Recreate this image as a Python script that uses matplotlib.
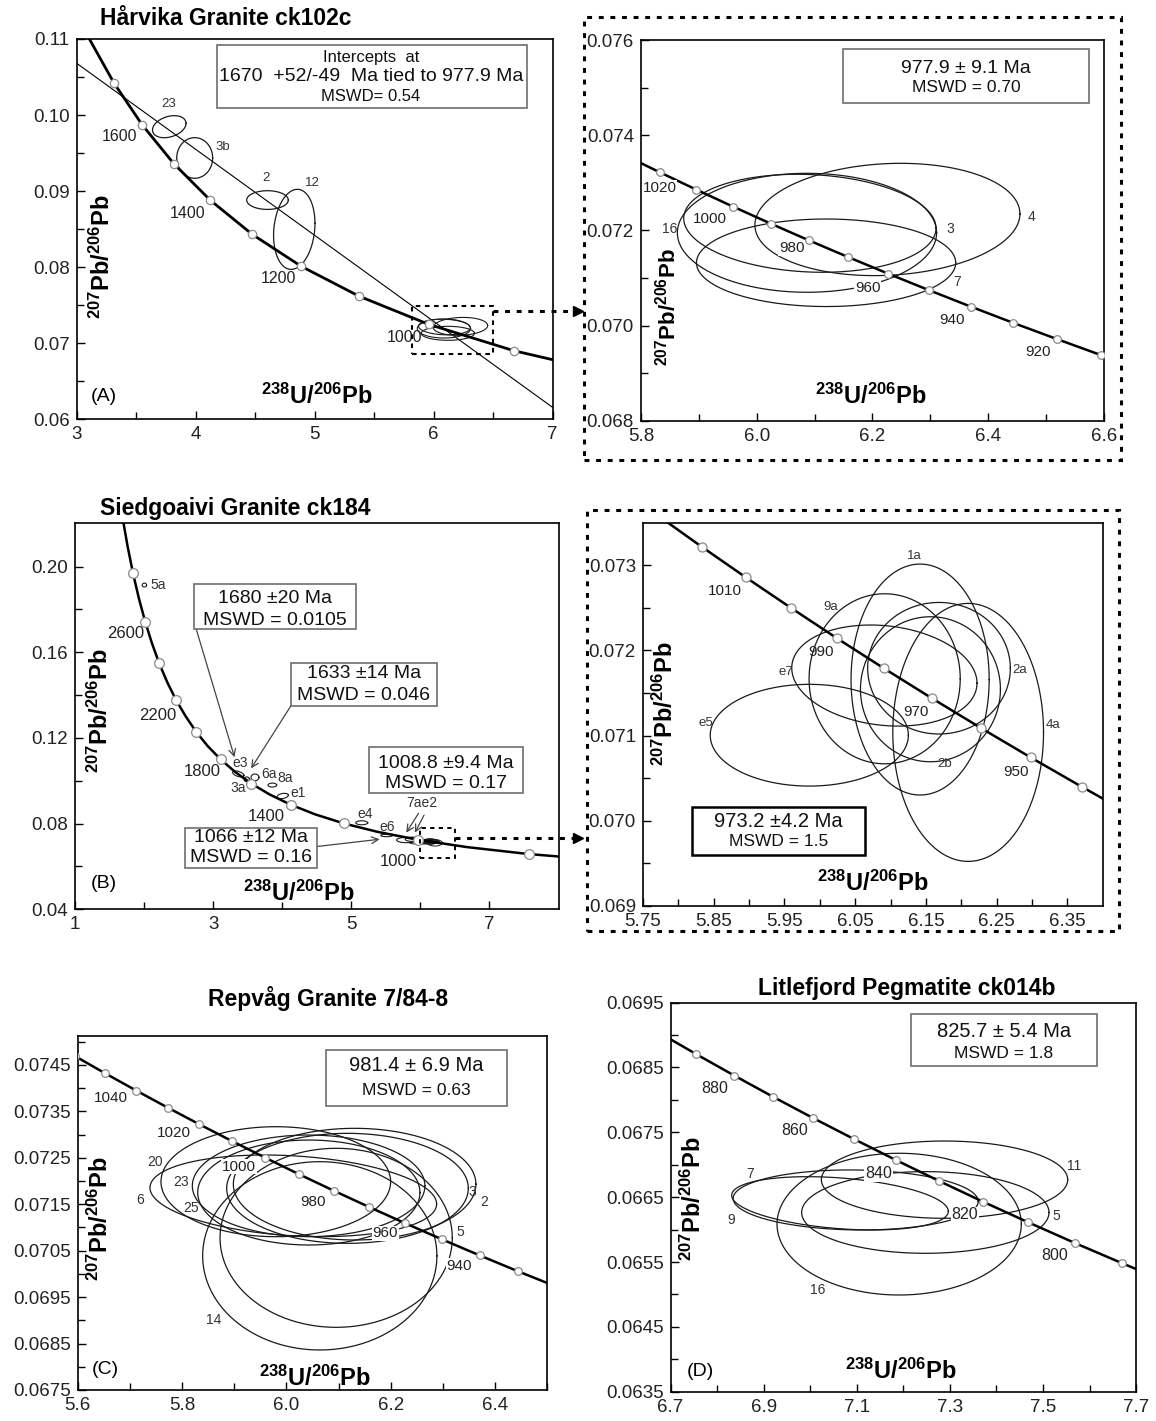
import numpy as np
import matplotlib
matplotlib.use("Agg")
import matplotlib.pyplot as plt
from matplotlib.patches import Rectangle
from matplotlib.lines import Line2D
from matplotlib.ticker import FixedLocator, FormatStrFormatter

plt.rcParams['font.family'] = ['Liberation Sans', 'DejaVu Sans']
plt.rcParams['mathtext.fontset'] = 'custom'
plt.rcParams['mathtext.rm'] = 'Liberation Sans'
plt.rcParams['mathtext.it'] = 'Liberation Sans:italic'
plt.rcParams['mathtext.bf'] = 'Liberation Sans:bold'

# concordia, 100 Ma steps: age, 238U/206Pb, 207Pb/206Pb
conc_age = [700, 800, 900, 1000, 1100, 1200, 1300, 1400, 1500, 1600, 1700, 1800,
            1900, 2000, 2100, 2200, 2300, 2400, 2500, 2600, 2700, 2800, 2900, 3000]
conc_u = [8.718, 7.568, 6.674, 5.959, 5.375, 4.888, 4.476, 4.123, 3.817, 3.550, 3.314, 3.105,
          2.917, 2.749, 2.599, 2.459, 2.333, 2.217, 2.111, 2.013, 1.922, 1.838, 1.760, 1.687]
conc_pb = [0.06276, 0.06580, 0.06904, 0.07250, 0.07619, 0.08012, 0.08432, 0.08881, 0.09360,
           0.09872, 0.10419, 0.11004, 0.11629, 0.12299, 0.13015, 0.13782, 0.14604, 0.15483,
           0.16426, 0.17437, 0.18520, 0.19682, 0.20928, 0.22266]

# concordia, 10 Ma steps (zoomed panels)
fine_age = [780, 790, 800, 810, 820, 830, 840, 850, 860, 870, 880, 890, 900, 910, 920,
            930, 940, 950, 960, 970, 980, 990, 1000, 1010, 1020, 1030, 1040, 1050, 1060]
fine_u = [7.7741, 7.6697, 7.5679, 7.4686, 7.3717, 7.2772, 7.1849, 7.0948, 7.0067, 6.9208,
          6.8368, 6.7546, 6.6742, 6.5957, 6.5188, 6.4436, 6.3700, 6.2980, 6.2274, 6.1583,
          6.0906, 6.0243, 5.9593, 5.8956, 5.8332, 5.7720, 5.7119, 5.6530, 5.5952]
fine_pb = [0.065170, 0.065482, 0.065795, 0.066111, 0.066428, 0.066748, 0.067069, 0.067393,
           0.067718, 0.068045, 0.068375, 0.068707, 0.069041, 0.069377, 0.069717, 0.070056,
           0.070399, 0.070743, 0.071090, 0.071439, 0.071790, 0.072143, 0.072500, 0.072858,
           0.073218, 0.073581, 0.073946, 0.074314, 0.074683]

# discordia line, panel A
disc_u = [3.0, 7.0]
disc_pb = [0.1068, 0.0616]

# error ellipses: name, centre, half-widths, correlation
A_name = ['23', '3b', '2', '12']
A_cx = [3.778, 3.992, 4.604, 4.829]
A_cy = [0.09847, 0.09436, 0.08883, 0.08498]
A_sx = [0.141, 0.151, 0.175, 0.174]
A_sy = [0.00145, 0.00267, 0.00123, 0.00526]
A_rho = [0.3, 0.0, 0.0, 0.15]
A_lx = [3.776, 4.230, 4.593, 4.981]
A_ly = [0.10141, 0.09585, 0.09168, 0.09103]

Az_name = ['16', '3', '4', '7']
Az_cx = [6.087, 6.092, 6.226, 6.120]
Az_cy = [0.07195, 0.07215, 0.07223, 0.07132]
Az_sx = [0.224, 0.218, 0.229, 0.224]
Az_sy = [0.00125, 0.00103, 0.00118, 0.00092]
Az_rho = [0.0, -0.1, 0.1, 0.0]
Az_lx = [5.849, 6.334, 6.475, 6.347]
Az_ly = [0.07204, 0.07204, 0.07229, 0.07092]

B_name = ['5a', 'e3', '3a', '6a', '8a', 'e1', 'e4', 'e6', '7a', 'e2']
B_cx = [2.002, 3.362, 3.484, 3.604, 3.855, 4.005, 5.150, 5.512, 5.80, 5.88]
B_cy = [0.1914, 0.1032, 0.1007, 0.1016, 0.0980, 0.0929, 0.0804, 0.0745, 0.07235, 0.0727]
B_sx = [0.032, 0.082, 0.039, 0.058, 0.063, 0.082, 0.087, 0.087, 0.145, 0.10]
B_sy = [0.0009, 0.0014, 0.0011, 0.00156, 0.00093, 0.00125, 0.00093, 0.0006, 0.00125, 0.0010]
B_rho = [0, -0.5, 0, 0, 0, 0.3, 0, 0, 0, 0]
B_lab = ['5a', 'e3', '3a', '6a', '8a', 'e1', 'e4', 'e6', '7ae2']
B_lx = [2.207, 3.387, 3.36, 3.80, 4.042, 4.229, 5.195, 5.516, 6.026]
B_ly = [0.1914, 0.1082, 0.0965, 0.1032, 0.1012, 0.0944, 0.0845, 0.0783, 0.0895]

Bz_name = ['1a', '9a', 'e7', 'e5', '2a', '2b', '4a']
Bz_cx = [6.1418, 6.0917, 6.0913, 5.9852, 6.1685, 6.1564, 6.2097]
Bz_cy = [0.071658, 0.071667, 0.071705, 0.071004, 0.071791, 0.071544, 0.071037]
Bz_sx = [0.0976, 0.1068, 0.1309, 0.140, 0.1008, 0.0989, 0.1065]
Bz_sy = [0.001357, 0.000999, 0.000594, 0.000598, 0.000773, 0.000852, 0.001516]
Bz_rho = [0, 0, -0.15, 0, 0, 0, 0]
Bz_lx = [6.1331, 6.0153, 5.9525, 5.8385, 6.2822, 6.1770, 6.3293]
Bz_ly = [0.073109, 0.072511, 0.071749, 0.071143, 0.071769, 0.07066, 0.071123]

C_name = ['20', '6', '23', '25', '3', '2', '5', '14']
C_cx = [5.9795, 6.013, 6.0424, 6.0428, 6.1169, 6.1306, 6.0952, 6.0638]
C_cy = [0.071984, 0.07168, 0.071895, 0.071751, 0.071841, 0.071931, 0.070776, 0.070388]
C_sx = [0.2201, 0.2747, 0.2229, 0.2130, 0.2316, 0.2325, 0.2226, 0.2245]
C_sy = [0.001184, 0.000879, 0.001094, 0.00113, 0.001184, 0.001202, 0.001927, 0.002027]
C_rho = [0, -0.2, 0, 0, 0, 0, 0, 0]
C_lx = [5.7476, 5.7192, 5.7987, 5.8164, 6.3559, 6.3792, 6.3332, 5.8612]
C_ly = [0.072414, 0.07159, 0.071984, 0.071424, 0.071755, 0.071553, 0.070895, 0.069007]

D_name = ['11', '5', '16', '7', '9']
D_cx = [7.2884, 7.2472, 7.191, 7.0976, 7.0639]
D_cy = [0.06677, 0.066264, 0.066084, 0.066457, 0.066405]
D_sx = [0.2646, 0.2657, 0.2624, 0.2632, 0.2327]
D_sy = [0.000596, 0.00063, 0.001093, 0.000463, 0.000411]
D_rho = [0, 0, 0, -0.05, -0.3]
D_lx = [7.5672, 7.529, 7.0158, 6.8701, 6.8304]
D_ly = [0.066986, 0.066215, 0.065069, 0.066853, 0.066148]

# concordia age labels
A_age_lab = ['1600', '1400', '1200', '1000']
A_age_x = [3.357, 3.932, 4.693, 5.758]
A_age_y = [0.09716, 0.08708, 0.07854, 0.07078]
Az_age_lab = ['1020', '1000', '980', '960', '940', '920']
Az_age_x = [5.832, 5.9197, 6.0606, 6.1917, 6.3375, 6.4861]
Az_age_y = [0.0729, 0.07225, 0.07162, 0.0708, 0.07012, 0.06945]
B_age_lab = ['2600', '2200', '1800', '1400', '1000']
B_age_x = [1.734, 2.19, 2.835, 3.774, 5.677]
B_age_y = [0.1689, 0.1307, 0.1042, 0.0832, 0.0622]
Bz_age_lab = ['1010', '990', '970', '950']
Bz_age_x = [5.8662, 6.0022, 6.1356, 6.2769]
Bz_age_y = [0.0727, 0.071984, 0.071279, 0.070574]
C_age_lab = ['1040', '1020', '1000', '980', '960', '940']
C_age_x = [5.6625, 5.7845, 5.9087, 6.0507, 6.1891, 6.3311]
C_age_y = [0.073779, 0.073026, 0.072307, 0.071553, 0.070873, 0.070169]
D_age_lab = ['880', '860', '840', '820', '800']
D_age_x = [6.7954, 6.9657, 7.1462, 7.3324, 7.5249]
D_age_y = [0.068169, 0.067526, 0.066869, 0.066225, 0.065598]

A_marks = [900, 1000, 1100, 1200, 1300, 1400, 1500, 1600, 1700]
B_marks = [800, 1000, 1200, 1400, 1600, 1800, 2000, 2200, 2400, 2600, 2800]

YL = r'$^{\mathbf{207}}$Pb/$^{\mathbf{206}}$Pb'
XL = r'$^{\mathbf{238}}$U/$^{\mathbf{206}}$Pb'

fig = plt.figure(figsize=(11.56, 14.21), dpi=100)


def ellipses(ax, cx, cy, sx, sy, rho, lw=0.9):
    t = np.linspace(0, 2 * np.pi, 240)
    for i in range(len(cx)):
        r = rho[i]
        ex = cx[i] + sx[i] * np.cos(t)
        ey = cy[i] + sy[i] * (r * np.cos(t) + np.sqrt(1 - r ** 2) * np.sin(t))
        ax.plot(ex, ey, color='#1a1a1a', lw=lw, zorder=3)


def labels(ax, txt, xs, ys, size, color='#333333', bg=False):
    for s, x, y in zip(txt, xs, ys):
        kw = {}
        if bg:
            kw['bbox'] = dict(boxstyle='square,pad=0.05', fc='white', ec='none')
        ax.text(x, y, s, fontsize=size, color=color, ha='center', va='center', zorder=6, **kw)


def setup(ax, xlim, ylim, xmaj, xmin, ymaj, ymin, xfmt, yfmt):
    ax.set_xlim(xlim)
    ax.set_ylim(ylim)
    ax.xaxis.set_major_locator(FixedLocator(xmaj))
    ax.xaxis.set_minor_locator(FixedLocator(xmin))
    ax.yaxis.set_major_locator(FixedLocator(ymaj))
    ax.yaxis.set_minor_locator(FixedLocator(ymin))
    ax.xaxis.set_major_formatter(FormatStrFormatter(xfmt))
    ax.yaxis.set_major_formatter(FormatStrFormatter(yfmt))
    ax.tick_params(which='both', direction='in', top=False, right=False, width=1,
                   labelsize=13.5, labelcolor='#222222')
    ax.tick_params(which='major', length=6, pad=5)
    ax.tick_params(which='minor', length=5)
    for sp in ax.spines.values():
        sp.set_linewidth(1.2)


def axis_text(ax, yl, xl, letter, ysize=17):
    ax.text(yl[0], yl[1], YL, transform=ax.transAxes, rotation=90, fontsize=ysize,
            fontweight='bold', ha='center', va='center', zorder=8)
    ax.text(xl[0], xl[1], XL, transform=ax.transAxes, fontsize=17,
            fontweight='bold', ha='center', va='center', zorder=8)
    if letter:
        ax.text(letter[1], letter[2], letter[0], transform=ax.transAxes, fontsize=14,
                ha='center', va='center')


def box(ax, x0, y0, x1, y1, lines, ec='#6e6e6e', lw=1.2):
    ax.add_patch(Rectangle((x0, y0), x1 - x0, y1 - y0, transform=ax.transAxes,
                           fc='white', ec=ec, lw=lw, zorder=7))
    for s, x, y, size in lines:
        ax.text(x, y, s, transform=ax.transAxes, fontsize=size, ha='center',
                va='center', zorder=8, color='#111111')


def concordia(ax, xs, ys, mx, my, lw=1.8, ms=5.5):
    ax.plot(xs, ys, color='black', lw=lw, zorder=4)
    ax.plot(mx, my, 'o', ms=ms, mfc='white', mec='#8a8a8a', mew=0.9, zorder=5)


def pick(ages):
    mx = [conc_u[conc_age.index(a)] for a in ages]
    my = [conc_pb[conc_age.index(a)] for a in ages]
    return mx, my


# ---------------- panel A ----------------
axA = fig.add_axes([0.06635, 0.7048, 0.4116, 0.2678])
setup(axA, (3, 7), (0.06, 0.11), [3, 4, 5, 6, 7], [3.5, 4.5, 5.5, 6.5],
      [0.06, 0.07, 0.08, 0.09, 0.10, 0.11], [0.065, 0.075, 0.085, 0.095, 0.105], '%g', '%.2f')
mx, my = pick(A_marks)
concordia(axA, conc_u, conc_pb, mx, my, lw=2.0, ms=6)
axA.plot(disc_u, disc_pb, color='black', lw=0.8, zorder=3)
ellipses(axA, A_cx, A_cy, A_sx, A_sy, A_rho)
ellipses(axA, Az_cx, Az_cy, Az_sx, Az_sy, Az_rho, lw=0.8)
labels(axA, A_name, A_lx, A_ly, 9.5)
labels(axA, A_age_lab, A_age_x, A_age_y, 11.5, color='#222222')
axA.add_patch(Rectangle((5.82, 0.0686), 0.68, 0.0063, fill=False, ls=(0, (2.2, 2.2)),
                        lw=1.5, ec='black', zorder=6))
box(axA, 0.2942, 0.8177, 0.9458, 0.9842,
    [('Intercepts  at', 0.618, 0.952, 12),
     ('1670  +52/-49  Ma tied to 977.9 Ma', 0.618, 0.901, 14),
     ('MSWD= 0.54', 0.618, 0.848, 12)])
axis_text(axA, (0.053, 0.428), (0.504, 0.060), ('(A)', 0.058, 0.060))
fig.text(0.0865, 0.9871, 'Hårvika Granite ck102c', fontsize=16.5, fontweight='bold',
         ha='left', va='center')

# ---------------- panel A zoom ----------------
axAz = fig.add_axes([0.5544, 0.7039, 0.4005, 0.2679])
setup(axAz, (5.8, 6.6), (0.068, 0.076), [5.8, 6.0, 6.2, 6.4, 6.6], [5.9, 6.1, 6.3, 6.5],
      [0.068, 0.070, 0.072, 0.074, 0.076], [0.069, 0.071, 0.073, 0.075], '%.1f', '%.3f')
concordia(axAz, fine_u, fine_pb, fine_u, fine_pb)
ellipses(axAz, Az_cx, Az_cy, Az_sx, Az_sy, Az_rho)
labels(axAz, Az_name, Az_lx, Az_ly, 10)
labels(axAz, Az_age_lab, Az_age_x, Az_age_y, 11, color='#222222', bg=True)
box(axAz, 0.4376, 0.8337, 0.9672, 0.9764,
    [('977.9 ± 9.1 Ma', 0.702, 0.9257, 14), ('MSWD = 0.70', 0.702, 0.8756, 12.5)])
axis_text(axAz, (0.0577, 0.2995), (0.4976, 0.063), None, ysize=16)

# ---------------- panel B ----------------
axB = fig.add_axes([0.06505, 0.3601, 0.4181, 0.2716])
setup(axB, (1, 8), (0.04, 0.2202), [1, 3, 5, 7], [2, 4, 6],
      [0.04, 0.08, 0.12, 0.16, 0.20], [0.06, 0.10, 0.14, 0.18], '%g', '%.2f')
mx, my = pick(B_marks)
concordia(axB, conc_u, conc_pb, mx, my, ms=7)
ellipses(axB, B_cx, B_cy, B_sx, B_sy, B_rho, lw=0.8)
ellipses(axB, Bz_cx, Bz_cy, Bz_sx, Bz_sy, Bz_rho, lw=0.7)
labels(axB, B_lab, B_lx, B_ly, 10)
labels(axB, B_age_lab, B_age_x, B_age_y, 12, color='#222222')
axB.add_patch(Rectangle((5.99, 0.0638), 0.51, 0.014, fill=False, ls=(0, (2.2, 2.2)),
                        lw=1.4, ec='black', zorder=6))
box(axB, 0.2467, 0.7254, 0.5816, 0.842,
    [('1680 ±20 Ma', 0.4138, 0.8048, 14), ('MSWD = 0.0105', 0.4138, 0.7470, 14)])
box(axB, 0.446, 0.5268, 0.7487, 0.639,
    [('1633 ±14 Ma', 0.597, 0.6097, 14), ('MSWD = 0.046', 0.597, 0.5527, 14)])
box(axB, 0.6069, 0.3005, 0.9264, 0.4197,
    [('1008.8 ±9.4 Ma', 0.7663, 0.3782, 14), ('MSWD = 0.17', 0.7663, 0.3264, 14)])
box(axB, 0.2276, 0.1062, 0.4996, 0.2098,
    [('1066 ±12 Ma', 0.3632, 0.1857, 14), ('MSWD = 0.16', 0.3632, 0.1339, 14)])
arrows_B = [((2.754, 0.1707), (3.307, 0.1110)), ((4.122, 0.1349), (3.548, 0.1058)),
            ((4.497, 0.0693), (5.409, 0.0727)), ((5.972, 0.0848), (5.795, 0.0758)),
            ((6.053, 0.0840), (5.919, 0.0758))]
for st, en in arrows_B:
    axB.annotate('', xy=en, xytext=st,
                 arrowprops=dict(arrowstyle='->', color='#444444', lw=0.9,
                                 shrinkA=0, shrinkB=0, mutation_scale=12), zorder=6)
axis_text(axB, (0.0513, 0.516), (0.463, 0.041), ('(B)', 0.059, 0.0674))
fig.text(0.0865, 0.6423, 'Siedgoaivi Granite ck184', fontsize=16.5, fontweight='bold',
         ha='left', va='center')

# ---------------- panel B zoom ----------------
axBz = fig.add_axes([0.5561, 0.3626, 0.3979, 0.2695])
setup(axBz, (5.75, 6.40), (0.069, 0.0735), [5.75, 5.85, 5.95, 6.05, 6.15, 6.25, 6.35],
      [5.80, 5.90, 6.00, 6.10, 6.20, 6.30],
      [0.069, 0.070, 0.071, 0.072, 0.073], [0.0695, 0.0705, 0.0715, 0.0725], '%.2f', '%.3f')
concordia(axBz, fine_u, fine_pb, fine_u, fine_pb, ms=6.5)
ellipses(axBz, Bz_cx, Bz_cy, Bz_sx, Bz_sy, Bz_rho)
labels(axBz, Bz_name, Bz_lx, Bz_ly, 9.5)
labels(axBz, Bz_age_lab, Bz_age_x, Bz_age_y, 11, color='#222222')
box(axBz, 0.1063, 0.1324, 0.483, 0.2585,
    [('973.2 ±4.2 Ma', 0.2947, 0.2193, 14.5), ('MSWD = 1.5', 0.2947, 0.167, 12.5)],
    ec='black', lw=1.8)
axis_text(axBz, (0.0498, 0.5285), (0.5004, 0.0585), None)

# ---------------- panel C ----------------
axC = fig.add_axes([0.0673, 0.02182, 0.4062, 0.2491])
setup(axC, (5.6, 6.5), (0.0675, 0.07512), [5.6, 5.8, 6.0, 6.2, 6.4], [5.7, 5.9, 6.1, 6.3, 6.5],
      [0.0675, 0.0685, 0.0695, 0.0705, 0.0715, 0.0725, 0.0735, 0.0745],
      [0.068, 0.069, 0.070, 0.071, 0.072, 0.073, 0.074, 0.075], '%.1f', '%.4f')
concordia(axC, fine_u, fine_pb, fine_u, fine_pb)
ellipses(axC, C_cx, C_cy, C_sx, C_sy, C_rho)
labels(axC, C_name, C_lx, C_ly, 10)
labels(axC, C_age_lab, C_age_x, C_age_y, 11, color='#222222', bg=True)
box(axC, 0.5283, 0.8031, 0.9133, 0.9605,
    [('981.4 ± 6.9 Ma', 0.7217, 0.9161, 14.5), ('MSWD = 0.63', 0.7217, 0.8475, 12.5)])
axis_text(axC, (0.0473, 0.485), (0.5047, 0.033), ('(C)', 0.0592, 0.0565))
fig.text(0.2836, 0.2975, 'Repvåg Granite 7/84-8', fontsize=16.5, fontweight='bold',
         ha='center', va='center')

# ---------------- panel D ----------------
axD = fig.add_axes([0.5801, 0.02062, 0.4027, 0.2738])
setup(axD, (6.7, 7.7), (0.0635, 0.0695), [6.7, 6.9, 7.1, 7.3, 7.5, 7.7], [6.8, 7.0, 7.2, 7.4, 7.6],
      [0.0635, 0.0645, 0.0655, 0.0665, 0.0675, 0.0685, 0.0695],
      [0.064, 0.065, 0.066, 0.067, 0.068, 0.069], '%.1f', '%.4f')
concordia(axD, fine_u, fine_pb, fine_u, fine_pb)
ellipses(axD, D_cx, D_cy, D_sx, D_sy, D_rho)
labels(axD, D_name, D_lx, D_ly, 10)
labels(axD, D_age_lab, D_age_x, D_age_y, 11.5, color='#222222', bg=True)
box(axD, 0.5171, 0.8373, 0.9164, 0.9702,
    [('825.7 ± 5.4 Ma', 0.716, 0.9254, 14.5), ('MSWD = 1.8', 0.716, 0.87, 12.5)])
axis_text(axD, (0.0492, 0.497), (0.4947, 0.0514), ('(D)', 0.0636, 0.0514))
fig.text(0.7842, 0.3045, 'Litlefjord Pegmatite ck014b', fontsize=16.5, fontweight='bold',
         ha='center', va='center')

# dotted frames round the enlarged panels
for x0, y0, w, h in [(0.5055, 0.6763, 0.4639, 0.3120), (0.5080, 0.3448, 0.4598, 0.2963)]:
    fig.add_artist(Rectangle((x0, y0), w, h, transform=fig.transFigure, fill=False,
                             ls=(0, (1.6, 2.2)), lw=2.2, ec='black'))

# dotted arrows from the boxed areas to the enlargements
inv = fig.transFigure.inverted()
for ax, pt, xend in [(axA, (6.50, 0.0743), 0.5043), (axB, (6.50, 0.0732), 0.5043)]:
    fx, fy = inv.transform(ax.transData.transform(pt))
    fig.add_artist(Line2D([fx, xend - 0.006], [fy, fy], transform=fig.transFigure,
                          ls=(0, (1.6, 2.2)), lw=2.2, color='black'))
    fig.add_artist(Line2D([xend - 0.004], [fy], transform=fig.transFigure, marker='>',
                          ms=7, color='black', ls='none'))

fig.savefig('out.png', dpi=100)
